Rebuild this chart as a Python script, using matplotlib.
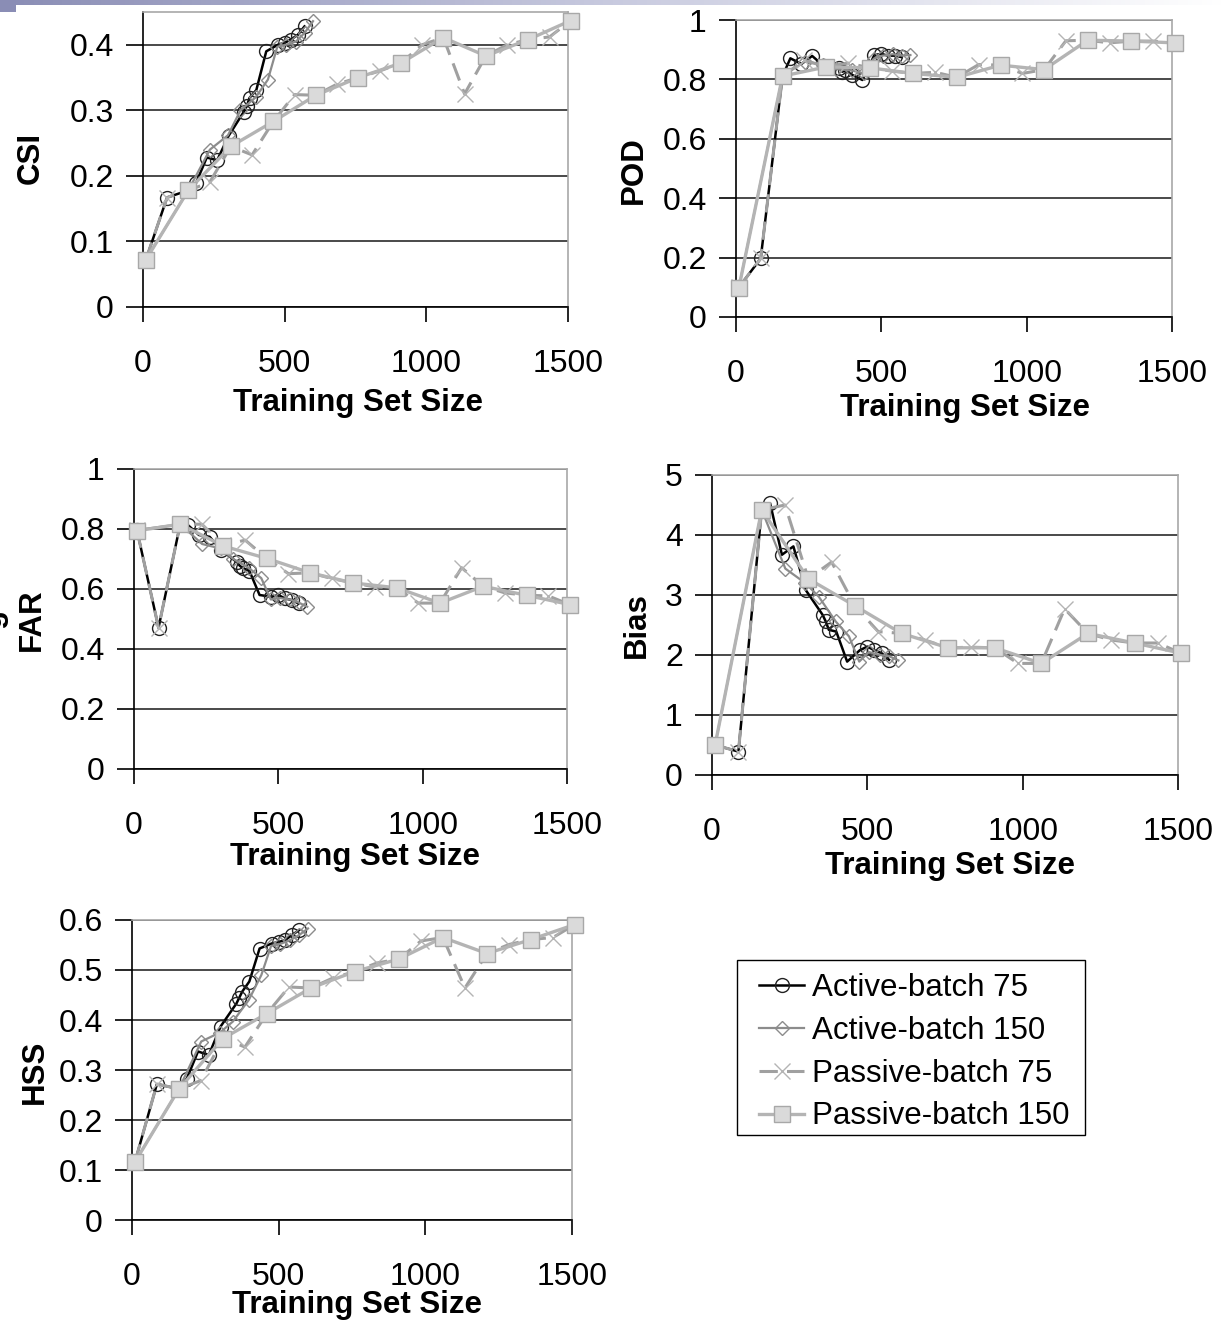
import matplotlib
matplotlib.use("Agg")
import matplotlib.pyplot as plt
from matplotlib.ticker import MultipleLocator, FuncFormatter
from matplotlib.patches import Rectangle
from matplotlib.colors import LinearSegmentedColormap
import numpy as np

plt.rcParams['font.family'] = ['Liberation Sans', 'DejaVu Sans']

# training set sizes of each run
x_a75 = [10, 85, 160, 187, 225, 262, 302, 356, 366, 376, 400, 435, 476, 500, 522, 546, 570]
x_a150 = [10, 160, 236, 300, 344, 398, 441, 474, 505, 540, 570, 600]
x_p75 = [10, 85, 160, 235, 310, 385, 460, 535, 610, 685, 760, 835, 910, 985,
         1060, 1135, 1210, 1285, 1360, 1435, 1510]
x_p150 = [10, 160, 310, 460, 610, 760, 910, 1060, 1210, 1360, 1510]

labels = ['Active-batch 75', 'Active-batch 150', 'Passive-batch 75', 'Passive-batch 150']

# CSI
csi_a75 = [0.072, 0.167, 0.178, 0.189, 0.228, 0.224, 0.261, 0.298, 0.306, 0.319, 0.331,
           0.390, 0.400, 0.403, 0.408, 0.415, 0.428]
csi_a150 = [0.072, 0.178, 0.240, 0.262, 0.300, 0.320, 0.347, 0.397, 0.400, 0.405, 0.418, 0.436]
csi_p75 = [0.072, 0.167, 0.178, 0.190, 0.245, 0.232, 0.283, 0.324, 0.323, 0.340, 0.350,
           0.360, 0.372, 0.400, 0.411, 0.325, 0.383, 0.400, 0.408, 0.412, 0.437]
csi_p150 = [0.072, 0.178, 0.245, 0.283, 0.323, 0.350, 0.372, 0.411, 0.383, 0.408, 0.437]

# POD
pod_a75 = [0.100, 0.197, 0.811, 0.871, 0.852, 0.879, 0.845, 0.837, 0.826, 0.830, 0.815,
           0.798, 0.882, 0.886, 0.880, 0.880, 0.875]
pod_a150 = [0.100, 0.811, 0.860, 0.850, 0.835, 0.830, 0.820, 0.870, 0.880, 0.885, 0.880, 0.882]
pod_p75 = [0.100, 0.197, 0.811, 0.865, 0.842, 0.855, 0.839, 0.828, 0.820, 0.824, 0.807,
           0.850, 0.848, 0.820, 0.833, 0.930, 0.932, 0.923, 0.929, 0.929, 0.923]
pod_p150 = [0.099, 0.811, 0.842, 0.839, 0.820, 0.807, 0.848, 0.833, 0.932, 0.929, 0.923]

# FAR
far_a75 = [0.797, 0.471, 0.816, 0.813, 0.780, 0.774, 0.730, 0.690, 0.678, 0.670, 0.660,
           0.580, 0.574, 0.580, 0.569, 0.563, 0.552]
far_a150 = [0.797, 0.816, 0.750, 0.735, 0.700, 0.670, 0.636, 0.565, 0.570, 0.565, 0.555, 0.541]
far_p75 = [0.797, 0.471, 0.816, 0.816, 0.745, 0.763, 0.702, 0.651, 0.654, 0.635, 0.620,
           0.607, 0.604, 0.553, 0.553, 0.671, 0.609, 0.587, 0.579, 0.577, 0.548]
far_p150 = [0.794, 0.816, 0.743, 0.702, 0.654, 0.620, 0.604, 0.553, 0.609, 0.579, 0.548]

# Bias
bias_a75 = [0.50, 0.39, 4.42, 4.53, 3.67, 3.81, 3.08, 2.67, 2.56, 2.42, 2.39, 1.89, 2.08,
            2.14, 2.08, 2.03, 1.92]
bias_a150 = [0.50, 4.42, 3.44, 3.20, 2.97, 2.56, 2.31, 1.89, 2.05, 2.00, 1.98, 1.91]
bias_p75 = [0.50, 0.39, 4.42, 4.50, 3.27, 3.55, 2.82, 2.39, 2.36, 2.25, 2.12, 2.13,
            2.12, 1.86, 1.86, 2.77, 2.36, 2.25, 2.20, 2.20, 2.03]
bias_p150 = [0.50, 4.42, 3.27, 2.82, 2.36, 2.12, 2.12, 1.86, 2.36, 2.20, 2.03]

# HSS
hss_a75 = [0.116, 0.272, 0.262, 0.283, 0.337, 0.330, 0.387, 0.433, 0.445, 0.457, 0.477,
           0.543, 0.553, 0.556, 0.560, 0.570, 0.580]
hss_a150 = [0.116, 0.262, 0.357, 0.375, 0.397, 0.440, 0.490, 0.548, 0.552, 0.560, 0.570, 0.583]
hss_p75 = [0.116, 0.272, 0.262, 0.279, 0.363, 0.346, 0.413, 0.466, 0.464, 0.484, 0.497,
           0.514, 0.522, 0.558, 0.565, 0.464, 0.533, 0.551, 0.561, 0.565, 0.591]
hss_p150 = [0.116, 0.262, 0.363, 0.413, 0.464, 0.497, 0.522, 0.565, 0.533, 0.561, 0.591]

W, H = 1226, 1320
fig = plt.figure(figsize=(W / 100, H / 100), dpi=100)

TICK_FS = 23
LAB_FS = 22.5

STYLES = [
    dict(color='black', lw=1.8, marker='o', ms=10, mfc='none', mec='#222222', mew=1.0),
    dict(color='#8c8c8c', lw=1.6, marker='D', ms=7.5, mfc='none', mec='#8c8c8c', mew=1.0),
    dict(color='#a0a0a0', lw=2.2, dashes=(6, 3), marker='x', ms=11, mec='#b4b4b4', mew=1.0),
    dict(color='#b4b4b4', lw=2.4, marker='s', ms=12, mfc='#dadada', mec='#a8a8a8', mew=1.0),
]


def rect(x0, x1, ytop, ybot):
    return [x0 / W, 1 - ybot / H, (x1 - x0) / W, (ybot - ytop) / H]


def fmt(v, pos):
    return '%g' % round(v, 3)


def panel(r, ys, ylim, ystep, ylab, ylab_xy, xlab_xy):
    ax = fig.add_axes(r)
    handles = []
    for i, (xs, vals) in enumerate(zip([x_a75, x_a150, x_p75, x_p150], ys)):
        h, = ax.plot(xs, vals, zorder=3 + i, clip_on=False, **STYLES[i])
        handles.append(h)

    ax.set_xlim(0, 1500)
    ax.set_ylim(*ylim)
    ax.xaxis.set_major_locator(MultipleLocator(500))
    ax.yaxis.set_major_locator(MultipleLocator(ystep))
    ax.xaxis.set_major_formatter(FuncFormatter(fmt))
    ax.yaxis.set_major_formatter(FuncFormatter(fmt))
    ax.yaxis.grid(True, color='#3a3a3a', lw=1.3)
    ax.set_axisbelow(True)
    for s in ['left', 'bottom']:
        ax.spines[s].set_color('black')
        ax.spines[s].set_linewidth(1.2)
    for s in ['top', 'right']:
        ax.spines[s].set_color('#a8a8a8')
        ax.spines[s].set_linewidth(1.2)
    ax.tick_params(axis='x', direction='out', length=11, width=1.2, pad=19,
                   labelsize=TICK_FS)
    ax.tick_params(axis='y', direction='out', length=12, width=1.2, pad=9,
                   labelsize=TICK_FS)
    fig.text(ylab_xy[0] / W, 1 - ylab_xy[1] / H, ylab, rotation=90, ha='center',
             va='center', fontsize=LAB_FS, fontweight='bold')
    fig.text(xlab_xy[0] / W, 1 - xlab_xy[1] / H, 'Training Set Size', ha='center',
             va='center', fontsize=LAB_FS, fontweight='bold')
    return handles


handles = panel(rect(143, 568, 12, 307), (csi_a75, csi_a150, csi_p75, csi_p150),
                (0, 0.45), 0.1, 'CSI', (31, 158), (358, 403))
panel(rect(736, 1172, 20, 317), (pod_a75, pod_a150, pod_p75, pod_p150),
      (0, 1), 0.2, 'POD', (634, 170), (965, 408))
panel(rect(134, 567, 469, 769), (far_a75, far_a150, far_p75, far_p150),
      (0, 1), 0.2, 'FAR', (32, 620), (355, 857))
panel(rect(712, 1178, 475, 775), (bias_a75, bias_a150, bias_p75, bias_p150),
      (0, 5), 1, 'Bias', (637, 625), (950, 866))
panel(rect(132, 572, 920, 1220), (hss_a75, hss_a150, hss_p75, hss_p150),
      (0, 0.6), 0.1, 'HSS', (35, 1072), (357, 1305))

# legend: frame drawn separately so the inner margins match
fig.patches.append(Rectangle((737 / W, 1 - 1135 / H), 348 / W, 175 / H,
                             transform=fig.transFigure, facecolor='white',
                             edgecolor='black', lw=1.0, zorder=1))
fig.legend(handles=handles, labels=labels, loc='upper left',
           bbox_to_anchor=(759 / W, 1 - 973 / H), borderaxespad=0, borderpad=0,
           fontsize=LAB_FS, frameon=False, handlelength=1.45, handletextpad=0.26,
           labelspacing=0.41)

# slide header strip at the very top
strip = fig.add_axes([0, 1 - 5 / H, 1, 5 / H])
grad = np.linspace(0, 1, 256).reshape(1, -1)
strip.imshow(grad, aspect='auto', extent=[0, 1, 0, 1],
             cmap=LinearSegmentedColormap.from_list('hdr', ['#8a8db5', '#c8cadf', '#ffffff']))
strip.axis('off')
fig.patches.append(Rectangle((0, 1 - 12 / H), 16 / W, 12 / H, transform=fig.transFigure,
                             facecolor='#8a8db5', edgecolor='none'))
# clipped letter at the left edge
fig.text(-0.006, 1 - 618 / H, 'g', rotation=90, ha='center', va='center',
         fontsize=LAB_FS, fontweight='bold')

fig.savefig('out.png', dpi=100)
